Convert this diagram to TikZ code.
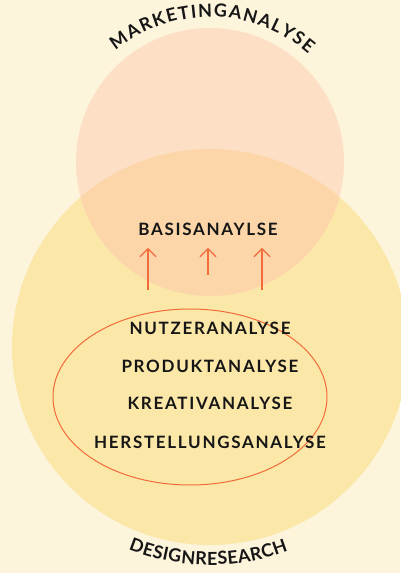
\documentclass[tikz,border=0pt]{standalone}
\usepackage{fontspec}
\setmainfont{Lato}
\newfontfamily\labelfont{Lato}[LetterSpace=10]
\newfontfamily\arcfont{Lato}
\usetikzlibrary{arrows.meta,decorations.text}
\definecolor{cream}{HTML}{FDF4DC}
\definecolor{sun}{HTML}{FBE7A8}
\definecolor{blush}{HTML}{FCDFC4}
\definecolor{apricot}{HTML}{FCD6A8}
\definecolor{flame}{HTML}{F26B3A}
\definecolor{ink}{HTML}{161616}
\tikzset{
  label text/.style={font=\labelfont\bfseries\fontsize{17}{20}\selectfont, text=ink, inner sep=0pt},
  lift/.style={draw=flame, line width=1.2pt, -{Straight Barb[length=8pt,width=16pt,line width=1.2pt]}},
}
\begin{document}
\begin{tikzpicture}[x=1pt,y=1pt]
  % canvas
  \fill[cream] (0,0) rectangle (400,573);
  \useasboundingbox (0,0) rectangle (400,573);
  % two overlapping circles
  \fill[sun] (210,226) circle[radius=198];
  \fill[blush] (210,411) circle[radius=134];
  \begin{scope}
    \clip (210,226) circle[radius=198];
    \fill[apricot] (210,411) circle[radius=134];
  \end{scope}
  % inner ellipse with its four analyses
  \draw[flame, line width=1pt] (190,176) ellipse[x radius=137, y radius=88];
  \node[label text] (nutzer) at (210,245) {NUTZERANALYSE};
  \node[label text] (produkt) at (210,207) {PRODUKTANALYSE};
  \node[label text] (kreativ) at (210,170) {KREATIVANALYSE};
  \node[label text] (herstellung) at (210,131) {HERSTELLUNGSANALYSE};
  % basis and arrows
  \node[label text] (basis) at (208,344) {BASISANAYLSE};
  \coordinate (l0) at (148,283); \coordinate (l1) at (148,325);
  \coordinate (m0) at (208,298); \coordinate (m1) at (208,325);
  \coordinate (r0) at (262,283); \coordinate (r1) at (262,325);
  \draw[lift] (l0) -- (l1);
  \draw[lift] (m0) -- (m1);
  \draw[lift] (r0) -- (r1);
  % curved titles
  \path[decorate, decoration={text along path, text align=fit to path,
      text={|\arcfont\bfseries\fontsize{18}{20}\selectfont\color{ink}|MARKETINGANALYSE}}]
    (210,406) ++(129:150) arc[start angle=129, end angle=49, radius=150];
  \path[decorate, decoration={text along path, text align=fit to path,
      text={|\arcfont\bfseries\fontsize{18}{20}\selectfont\color{ink}|DESIGNRESEARCH}}]
    (210,226) ++(248:218) arc[start angle=248, end angle=291, radius=218];
\end{tikzpicture}
\end{document}
